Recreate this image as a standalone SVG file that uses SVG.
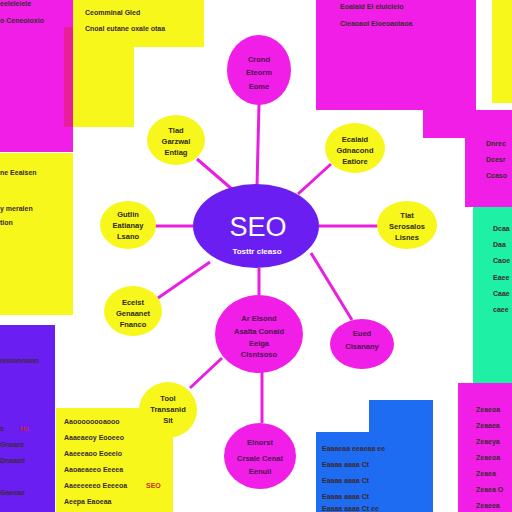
<svg xmlns="http://www.w3.org/2000/svg" width="512" height="512" viewBox="0 0 512 512">
<style>
.mag{fill:#f01ee6}
.yel{fill:#f7f71c}
.pur{fill:#6a1ef2}
.blu{fill:#1e6cf2}
.tea{fill:#1ef0a6}
.t{font-family:"Liberation Sans",Arial,sans-serif;font-size:7px;font-weight:bold;fill:#3a2a30}
.n{font-family:"Liberation Sans",Arial,sans-serif;font-size:7.5px;font-weight:bold;fill:#2e2a10;text-anchor:middle}
.nm{font-family:"Liberation Sans",Arial,sans-serif;font-size:7.5px;font-weight:bold;fill:#4a1450;text-anchor:middle}
.c{stroke:#e81ee0;stroke-width:3;fill:none}
</style>
<rect width="512" height="512" fill="#ffffff"/>
<g id="panels">
<rect class="mag" x="0" y="0" width="73" height="152"/>
<rect x="64" y="27" width="9" height="100" fill="#e81e9a"/>
<rect class="yel" x="73" y="0" width="131" height="47"/>
<rect class="yel" x="73" y="47" width="61" height="80"/>
<rect class="yel" x="0" y="153" width="73" height="162"/>
<rect class="pur" x="0" y="325" width="55" height="187"/>
<rect class="yel" x="56" y="408" width="117" height="104"/>
<rect class="mag" x="316" y="0" width="160" height="110"/>
<rect class="mag" x="423" y="110" width="89" height="28"/>
<rect class="mag" x="465" y="138" width="47" height="69"/>
<rect class="yel" x="492" y="0" width="20" height="103"/>
<rect class="tea" x="473" y="207" width="39" height="176"/>
<rect class="mag" x="458" y="383" width="54" height="129"/>
<rect class="blu" x="369" y="400" width="64" height="32"/>
<rect class="blu" x="316" y="432" width="117" height="80"/>
</g>
<g id="panel-texts">
<text class="t" x="0" y="6">eeleleiele</text>
<text class="t" x="0" y="23">o Ceneoioxio</text>
<text class="t" x="85" y="15">Ceomminal Gled</text>
<text class="t" x="85" y="31">Cnoal eutane oxale otaa</text>
<text class="t" x="340" y="9">Eoaiaid Ei eiuicieio</text>
<text class="t" x="340" y="26">Cieaoaoi Eioeoaoiaoa</text>
<text class="t" x="486" y="146">Dnrec</text>
<text class="t" x="486" y="162">Dcesr</text>
<text class="t" x="486" y="178">Ccaso</text>
<text class="t" x="0" y="175">ne Eeaisen</text>
<text class="t" x="0" y="211">y meralen</text>
<text class="t" x="0" y="225">tion</text>
<text class="t" x="0" y="363">nnnnnnnnn</text>
<text class="t" x="0" y="431">s</text>
<text class="t" x="20" y="431" style="fill:#c0205a">Ha</text>
<text class="t" x="0" y="447">Gneare</text>
<text class="t" x="0" y="463">Dnaaeii</text>
<text class="t" x="0" y="495">Gaeeae</text>
<text class="t" x="64" y="424">Aaoooooooaooo</text>
<text class="t" x="64" y="440">Aaaeaeoy Eooeeo</text>
<text class="t" x="64" y="456">Aaeeeaoo Eoeeio</text>
<text class="t" x="64" y="472">Aaoaeaeeo Eeeea</text>
<text class="t" x="64" y="488">Aaeeeeeeo Eeeeoa</text>
<text class="t" x="146" y="488" style="fill:#d03010">SEO</text>
<text class="t" x="64" y="504">Aeepa Eaoeaa</text>
<text class="t" x="493" y="231">Dcaa</text>
<text class="t" x="493" y="247">Daa</text>
<text class="t" x="493" y="263">Caoe</text>
<text class="t" x="493" y="280">Eaee</text>
<text class="t" x="493" y="296">Caae</text>
<text class="t" x="493" y="312">caee</text>
<text class="t" x="476" y="412">Zeaeoa</text>
<text class="t" x="476" y="428">Zeaaea</text>
<text class="t" x="476" y="444">Zeaeya</text>
<text class="t" x="476" y="460">Zeaeoa</text>
<text class="t" x="476" y="476">Zeaea</text>
<text class="t" x="476" y="492">Zeaea O</text>
<text class="t" x="476" y="508">Zeaeea</text>
<text class="t" x="322" y="451">Eaaaeaa eeaeaa ee</text>
<text class="t" x="322" y="467">Eaaaa aaaa Ct</text>
<text class="t" x="322" y="483">Eaaaa aaaa Ct</text>
<text class="t" x="322" y="499">Eaaaa aaaa Ct</text>
<text class="t" x="322" y="511">Eaaaa aaaa Ct ee</text>
</g>
<g id="connectors">
<line class="c" x1="257" y1="186" x2="259" y2="104"/>
<line class="c" x1="233" y1="190" x2="197" y2="159"/>
<line class="c" x1="298" y1="194" x2="331" y2="164"/>
<line class="c" x1="193" y1="226" x2="155" y2="226"/>
<line class="c" x1="319" y1="226" x2="378" y2="226"/>
<line class="c" x1="210" y1="262" x2="158" y2="298"/>
<line class="c" x1="259" y1="268" x2="259" y2="295"/>
<line class="c" x1="311" y1="253" x2="352" y2="320"/>
<line class="c" x1="262" y1="372" x2="262" y2="423"/>
<line class="c" x1="222" y1="358" x2="190" y2="388"/>
</g>
<g id="node-seo">
<ellipse class="pur" cx="256" cy="226" rx="63" ry="42"/>
<text x="258" y="236" text-anchor="middle" font-family="Liberation Sans,Arial,sans-serif" font-size="27" fill="#ffffff">SEO</text>
<text x="257" y="254" text-anchor="middle" font-family="Liberation Sans,Arial,sans-serif" font-size="8" font-weight="bold" fill="#ffffff">Tosttr cleaso</text>
</g>
<g id="node-top">
<ellipse class="mag" cx="259" cy="70" rx="32" ry="35"/>
<text class="nm" x="259" y="62">Crond</text>
<text class="nm" x="259" y="75">Eteorm</text>
<text class="nm" x="259" y="89">Eome</text>
</g>
<g id="node-topleft">
<ellipse class="yel" cx="176" cy="140" rx="29" ry="25"/>
<text class="n" x="176" y="133">Tlad</text>
<text class="n" x="176" y="144">Garzwal</text>
<text class="n" x="176" y="155">Entiag</text>
</g>
<g id="node-topright">
<ellipse class="yel" cx="355" cy="148" rx="30" ry="25"/>
<text class="n" x="355" y="142">Ecalaid</text>
<text class="n" x="355" y="153">Gdnacond</text>
<text class="n" x="355" y="164">Eatiore</text>
</g>
<g id="node-left">
<ellipse class="yel" cx="128" cy="225" rx="28" ry="24"/>
<text class="n" x="128" y="217">Gutlin</text>
<text class="n" x="128" y="228">Eatianay</text>
<text class="n" x="128" y="239">Lsano</text>
</g>
<g id="node-right">
<ellipse class="yel" cx="407" cy="225" rx="30" ry="24"/>
<text class="n" x="407" y="218">Tlat</text>
<text class="n" x="407" y="229">Serosalos</text>
<text class="n" x="407" y="240">Lisnes</text>
</g>
<g id="node-lowerleft">
<ellipse class="yel" cx="133" cy="311" rx="29" ry="25"/>
<text class="n" x="133" y="305">Ecelst</text>
<text class="n" x="133" y="316">Genaanet</text>
<text class="n" x="133" y="327">Fnanco</text>
</g>
<g id="node-center-low">
<ellipse class="mag" cx="259" cy="334" rx="44" ry="39"/>
<text class="nm" x="259" y="321">Ar Elsond</text>
<text class="nm" x="259" y="334">Asalta Conaid</text>
<text class="nm" x="259" y="346">Eeiga</text>
<text class="nm" x="259" y="357">Cisntsoso</text>
</g>
<g id="node-right-low">
<ellipse class="mag" cx="362" cy="344" rx="32" ry="25"/>
<text class="nm" x="362" y="336">Eued</text>
<text class="nm" x="362" y="349">Cisanany</text>
</g>
<g id="node-bottom">
<ellipse class="mag" cx="260" cy="456" rx="36" ry="33"/>
<text class="nm" x="260" y="445">Elnorst</text>
<text class="nm" x="260" y="461">Crsale Cenat</text>
<text class="nm" x="260" y="474">Eenuil</text>
</g>
<g id="node-bottomleft">
<ellipse class="yel" cx="168" cy="410" rx="29" ry="28"/>
<text class="n" x="168" y="401">Tool</text>
<text class="n" x="168" y="412">Transanid</text>
<text class="n" x="168" y="423">Sit</text>
</g>
</svg>
